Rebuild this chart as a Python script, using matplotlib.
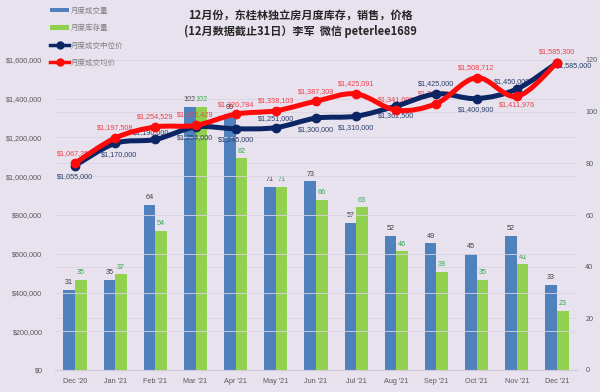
import matplotlib
matplotlib.use("Agg")
import matplotlib.pyplot as plt
from matplotlib.path import Path
from matplotlib.patches import PathPatch, Patch
from matplotlib.lines import Line2D
import numpy as np

plt.rcParams['font.family'] = ['Liberation Sans', 'Noto Sans CJK SC', 'DejaVu Sans']

months = ["Dec '20", "Jan '21", "Feb '21", "Mar '21", "Apr '21", "May '21", "Jun '21",
          "Jul '21", "Aug '21", "Sep '21", "Oct '21", "Nov '21", "Dec '21"]
sales = [31, 35, 64, 102, 99, 71, 73, 57, 52, 49, 45, 52, 33]
inventory = [35, 37, 54, 102, 82, 71, 66, 63, 46, 38, 35, 41, 23]
median_price = [1055000, 1170000, 1190000, 1254000, 1245000, 1251000, 1300000,
                1310000, 1362500, 1425000, 1400900, 1450000, 1585000]
mean_price = [1067350, 1197508, 1254529, 1262429, 1320784, 1338103, 1387309,
              1425091, 1341000, 1375300, 1508712, 1411976, 1585300]
legend_labels = ["月度成交量", "月度库存量", "月度成交中位价", "月度成交均价"]
title_lines = ["12月份，东桂林独立房月度库存，销售，价格",
               "(12月数据截止31日）李军  微信 peterlee1689"]

BG = "#E7E2EE"
BLUE = "#4F81BD"
GREEN = "#92D050"
NAVY = "#0B2565"
RED = "#FF0A0A"
GRID = "#DAD4E2"
TICK = "#595959"

fig = plt.figure(figsize=(6, 3.92), dpi=100, facecolor=BG)
ax = fig.add_axes([55/600, 1-370/392, (577-55)/600, (370-60)/392])
ax.set_facecolor(BG)
ax2 = ax.twinx()

x = np.arange(len(months))
w = 0.29
b1 = ax2.bar(x - w/2, sales, w, color=BLUE, zorder=2)
b2 = ax2.bar(x + w/2, inventory, w, color=GREEN, zorder=2)
for xi, v in zip(x, sales):
    ax2.annotate(str(v), (xi - w/2, v), xytext=(0, 7), textcoords='offset pixels',
                 ha='center', va='center', fontsize=5.2, color="#404040", zorder=3)
for xi, v in zip(x, inventory):
    ax2.annotate(str(v), (xi + w/2, v), xytext=(0, 7), textcoords='offset pixels',
                 ha='center', va='center', fontsize=5.2, color="#2EA84E", zorder=3)

ax2.set_ylim(0, 120)
ax2.set_yticks(range(0, 121, 20))
ax.set_ylim(0, 1600000)
ax.set_yticks(range(0, 1600001, 200000))
ax.set_yticklabels([f"${v:,.0f}" for v in range(0, 1600001, 200000)])
ax.set_xlim(-0.5, len(months) - 0.5)
ax.set_xticks(x)
ax.set_xticklabels(months)

for a in (ax, ax2):
    for s in a.spines.values():
        s.set_visible(False)
    a.tick_params(length=0, labelsize=5.2, colors=TICK)
ax.tick_params(axis='y', pad=9)
ax2.tick_params(axis='y', pad=6)
ax.tick_params(axis='x', pad=6)
ax.spines['bottom'].set_visible(True)
ax.spines['bottom'].set_color("#CFCAD6")
ax.spines['bottom'].set_linewidth(0.8)
for gy in range(200000, 1600001, 200000):
    ax.axhline(gy, color=GRID, lw=0.6, zorder=0)

# lines drawn on top of bars: put ax above ax2
ax.set_zorder(ax2.get_zorder() + 1)
ax.patch.set_visible(False)
ax2.patch.set_visible(True)
ax2.set_facecolor(BG)
ax.set_facecolor('none')
for gy in range(20, 121, 20):
    ax2.axhline(gy, color=GRID, lw=0.6, zorder=0)


def smooth_path(xs, ys):
    pts = np.column_stack([xs, ys]).astype(float)
    n = len(pts)
    verts = [pts[0]]
    codes = [Path.MOVETO]
    for i in range(n - 1):
        p0 = pts[i - 1] if i > 0 else pts[i]
        p1 = pts[i]
        p2 = pts[i + 1]
        p3 = pts[i + 2] if i + 2 < n else pts[i + 1]
        c1 = p1 + (p2 - p0) / 6.0
        c2 = p2 - (p3 - p1) / 6.0
        verts += [c1, c2, p2]
        codes += [Path.CURVE4] * 3
    return Path(verts, codes)


def draw_line(vals, color, z):
    patch = PathPatch(smooth_path(x, vals), transform=ax.transData, fill=False,
                      edgecolor=color, lw=3.6, capstyle='round', joinstyle='round',
                      zorder=z, clip_on=False)
    ax.add_patch(patch)
    ax.plot(x, vals, 'o', color=color, ms=6, zorder=z + 0.1, clip_on=False)


# labels (under lines)
navy_off = [(0, -11), (4, -11), (-4, 7), (0, -11), (0, -11), (0, 9), (0, -11),
            (0, -11), (0, -10), (0, 10), (0, -11), (-5, 8), (17, -3)]
red_off = [(0, 10), (0, 10), (0, 10), (0, 11), (0, 10), (0, 10), (0, 10),
           (0, 10), (0, 11), (0, 10), (0, 10), (0, -8), (0, 11)]
for xi, v, o in zip(x, median_price, navy_off):
    ax.annotate(f"${v:,.0f}", (xi, v), xytext=o, textcoords='offset pixels',
                ha='center', va='center', fontsize=5.2, color="#2B3F6B", zorder=2)
for xi, v, o in zip(x, mean_price, red_off):
    ax.annotate(f"${v:,.0f}", (xi, v), xytext=o, textcoords='offset pixels',
                ha='center', va='center', fontsize=5.2, color="#F0404A", zorder=2)

draw_line(median_price, NAVY, 4)
draw_line(mean_price, RED, 5)

# title
fig.text(0.5, 1-15/392, title_lines[0], ha='center', va='center', fontsize=8,
         fontweight='bold', color="#262626", family=['Noto Sans CJK SC', 'DejaVu Sans'])
fig.text(0.5, 1-31/392, title_lines[1], ha='center', va='center', fontsize=8,
         fontweight='bold', color="#262626", family=['Noto Sans CJK SC', 'DejaVu Sans'])

handles = [Patch(facecolor=BLUE), Patch(facecolor=GREEN),
           Line2D([], [], color=NAVY, lw=2.5, marker='o', ms=5),
           Line2D([], [], color=RED, lw=2.5, marker='o', ms=5)]
leg = fig.legend(handles, legend_labels, loc='upper left', bbox_to_anchor=(43/600, 1.0),
                 frameon=False, labelspacing=1.25, handlelength=2.6,
                 handleheight=0.6, handletextpad=0.2,
                 prop={'family': ['Noto Sans CJK SC', 'DejaVu Sans'], 'size': 5.4})
for t in leg.get_texts():
    t.set_color("#7F7F7F")

fig.savefig("out.png", dpi=100, facecolor=BG)
